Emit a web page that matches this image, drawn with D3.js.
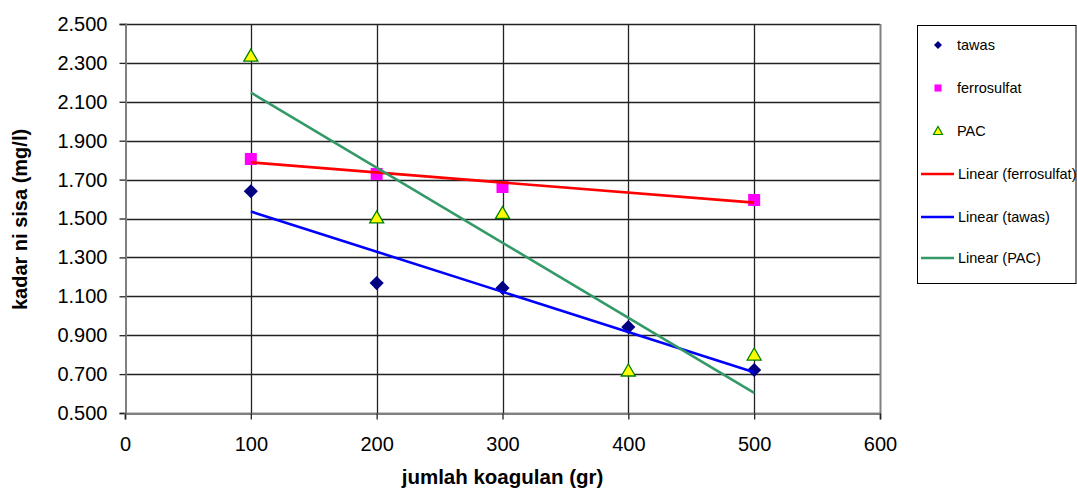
<!DOCTYPE html>
<html><head><meta charset="utf-8">
<script src="https://cdn.jsdelivr.net/npm/d3@7"></script>
<style>body{margin:0;background:#fff}svg{display:block;font-family:"Liberation Sans",Arial,sans-serif}</style>
</head><body><svg id="c" width="1077" height="489"></svg>
<script>
const xTicks = [0,100,200,300,400,500,600];
const yTicks = [0.5,0.7,0.9,1.1,1.3,1.5,1.7,1.9,2.1,2.3,2.5];
const tawasX = [100,200,300,400,500];
const tawasY = [1.640,1.168,1.143,0.942,0.721];
const ferroX = [100,200,300,500];
const ferroY = [1.806,1.729,1.662,1.595];
const pacX = [100,200,300,400,500];
const pacY = [2.335,1.503,1.526,0.716,0.798];
const legendLabels = ["tawas","ferrosulfat","PAC","Linear (ferrosulfat)","Linear (tawas)","Linear (PAC)"];

const svg = d3.select("#c");
const L=125,R=880,T=24,B=413;
const x = d3.scaleLinear().domain([0,600]).range([L,R]);
const y = d3.scaleLinear().domain([0.5,2.5]).range([B,T]);

// grid
svg.append("g").selectAll("line").data(yTicks).join("line")
  .attr("x1",L).attr("x2",R).attr("y1",d=>Math.round(y(d))+0.5).attr("y2",d=>Math.round(y(d))+0.5)
  .attr("stroke","#222").attr("stroke-width",1.3);
svg.append("g").selectAll("line").data(xTicks.slice(1,-1)).join("line")
  .attr("y1",T).attr("y2",B).attr("x1",d=>Math.round(x(d))+0.5).attr("x2",d=>Math.round(x(d))+0.5)
  .attr("stroke","#222").attr("stroke-width",1.3);
// right border
svg.append("line").attr("x1",R+0.5).attr("x2",R+0.5).attr("y1",T).attr("y2",B).attr("stroke","#808080").attr("stroke-width",2);

// axes
const fmt = d3.format(".3f");
const yAxis = svg.append("g").attr("transform",`translate(${L+0.5},0)`)
  .call(d3.axisLeft(y).tickValues(yTicks).tickFormat(fmt).tickSize(6).tickPadding(12));
const xAxis = svg.append("g").attr("transform",`translate(0,${B+0.5})`)
  .call(d3.axisBottom(x).tickValues(xTicks).tickSize(6).tickPadding(17));
[yAxis,xAxis].forEach(a=>{
  a.select(".domain").attr("stroke","#808080").attr("stroke-width",2);
  a.selectAll(".tick line").attr("stroke","#222").attr("stroke-width",1.3);
  a.selectAll("text").attr("font-size","20px").attr("fill","#000").attr("font-family","Liberation Sans, Arial, sans-serif");
});

// titles
svg.append("text").attr("x",(L+R)/2).attr("y",484).attr("text-anchor","middle")
  .attr("font-size","20.5px").attr("font-weight","bold").text("jumlah koagulan (gr)");
svg.append("text").attr("transform",`translate(27,${(T+B)/2+1}) rotate(-90)`).attr("text-anchor","middle")
  .attr("font-size","20px").attr("font-weight","bold").text("kadar ni sisa (mg/l)");

// regression
function fit(xs,ys){const mx=d3.mean(xs),my=d3.mean(ys);let sxy=0,sxx=0;xs.forEach((v,i)=>{sxy+=(v-mx)*(ys[i]-my);sxx+=(v-mx)*(v-mx);});const b=sxy/sxx;return v=>my+b*(v-mx);}

// markers
const g = svg.append("g");
g.selectAll(".tw").data(tawasX.map((v,i)=>[v,tawasY[i]])).join("path")
  .attr("d",d3.symbol().type(d3.symbolSquare).size(100)).attr("transform",d=>`translate(${x(d[0])},${y(d[1])}) rotate(45)`)
  .attr("fill","#000080");
g.selectAll(".fe").data(ferroX.map((v,i)=>[v,ferroY[i]])).join("path")
  .attr("d",d3.symbol().type(d3.symbolSquare).size(144)).attr("transform",d=>`translate(${x(d[0])},${y(d[1])})`)
  .attr("fill","#ff00ff");
const tri = "M0,-7L7,5L-7,5Z";
g.selectAll(".pa").data(pacX.map((v,i)=>[v,pacY[i]])).join("path")
  .attr("d",tri).attr("transform",d=>`translate(${x(d[0])},${y(d[1])})`)
  .attr("fill","#ffff00").attr("stroke","#008000").attr("stroke-width",1.3);

// trend lines
const trends=[[ferroX,ferroY,"#ff0000"],[tawasX,tawasY,"#0000ff"],[pacX,pacY,"#339966"]];
trends.forEach(([xs,ys,c])=>{const f=fit(xs,ys);const x0=d3.min(xs),x1=d3.max(xs);
  svg.append("line").attr("x1",x(x0)).attr("y1",y(f(x0))).attr("x2",x(x1)).attr("y2",y(f(x1)))
   .attr("stroke",c).attr("stroke-width",2.6);});

// legend
const lg = svg.append("g");
lg.append("rect").attr("x",917.5).attr("y",25.5).attr("width",158.5).attr("height",258).attr("fill","#fff").attr("stroke","#000").attr("stroke-width",1);
const ly = [45,88,131,174,217,258];
const lcol = ["#ff0000","#0000ff","#339966"];
lg.selectAll("text").data(legendLabels).join("text")
  .attr("x",(d,i)=>i<3?957:958).attr("y",(d,i)=>ly[i]+5).attr("font-size","14.5px").text(d=>d);
lg.append("path").attr("d",d3.symbol().type(d3.symbolSquare).size(32)).attr("transform",`translate(938,${ly[0]}) rotate(45)`).attr("fill","#000080");
lg.append("path").attr("d",d3.symbol().type(d3.symbolSquare).size(50)).attr("transform",`translate(938,${ly[1]})`).attr("fill","#ff00ff");
lg.append("path").attr("d","M0,-4.5L4.5,3.5L-4.5,3.5Z").attr("transform",`translate(938,${ly[2]})`).attr("fill","#ffff00").attr("stroke","#008000").attr("stroke-width",1.2);
lcol.forEach((c,i)=>lg.append("line").attr("x1",921).attr("x2",954).attr("y1",ly[3+i]).attr("y2",ly[3+i]).attr("stroke",c).attr("stroke-width",2.6));
</script></body></html>
